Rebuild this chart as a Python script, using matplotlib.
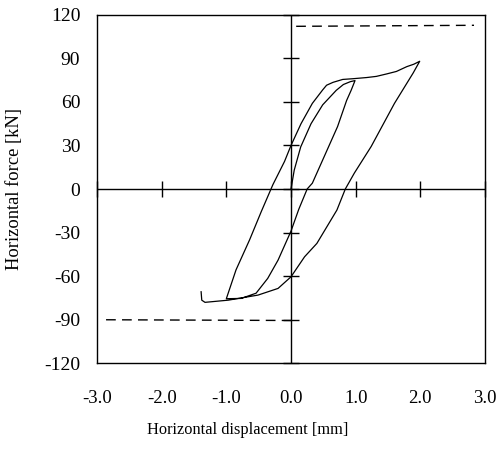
import matplotlib
matplotlib.use("Agg")
import matplotlib.pyplot as plt

plt.rcParams['font.family'] = ['Liberation Serif', 'DejaVu Serif']
plt.rcParams['axes.unicode_minus'] = False

# hysteresis path (mm, kN)
disp = [0.0, 0.05, 0.15, 0.31, 0.49, 0.70, 0.81, 0.92, 0.99,
        0.93, 0.86, 0.72, 0.51, 0.33, 0.25, 0.12, 0.0, -0.2, -0.36, -0.54, -0.77, -1.0,
        -0.85, -0.64, -0.46, -0.28, -0.1, 0.0, 0.155, 0.33, 0.49, 0.55, 0.65, 0.80, 0.96,
        1.17, 1.32, 1.48, 1.63, 1.79, 1.90, 1.99,
        1.89, 1.60, 1.24, 0.98, 0.84, 0.71, 0.40, 0.21, 0.0, -0.2, -0.51, -0.97, -1.33,
        -1.38, -1.39]
force = [0.0, 13, 29, 45, 58, 68, 72, 74, 74.7,
         68, 61, 43, 22, 4, 0, -14, -29, -49, -61.6, -71.8, -75.4, -75.6,
         -55.7, -35, -15.6, 3, 19, 30, 45, 59, 68.3, 71.5, 73.5, 75.5, 76,
         76.8, 77.6, 79.3, 81, 84.3, 86, 88,
         80, 59, 29.3, 11, 0, -14.5, -37.5, -46.7, -60.5, -68.5, -73.1, -76.6, -78.1,
         -76.6, -70.8]

# dashed capacity lines
cap_pos_x = [0.08, 2.83]
cap_pos_y = [112.1, 112.8]
cap_neg_x = [-2.86, 0.0]
cap_neg_y = [-90.1, -90.6]

x_ticks = [-3, -2, -1, 0, 1, 2, 3]
x_labels = ["-3.0", "-2.0", "-1.0", "0.0", "1.0", "2.0", "3.0"]
y_ticks = [-120, -90, -60, -30, 0, 30, 60, 90, 120]

fig = plt.figure(figsize=(5, 4.5), dpi=100)
ax = fig.add_axes([0.194, 0.193, 0.776, 0.774])

ax.plot(disp, force, color='black', lw=0.9)
ax.plot(cap_pos_x, cap_pos_y, color='black', lw=1, dashes=(7, 4.5))
ax.plot(cap_neg_x, cap_neg_y, color='black', lw=1, dashes=(7, 4.5))

# axes through origin with crossing ticks
ax.axhline(0, color='black', lw=1)
ax.axvline(0, color='black', lw=1)
ax.plot(x_ticks, [0] * len(x_ticks), ls='none', marker='|', ms=11, mew=1,
        color='black', clip_on=False)
ax.plot([0] * len(y_ticks), y_ticks, ls='none', marker='_', ms=11, mew=1,
        color='black', clip_on=False)

ax.set_xlim(-3, 3)
ax.set_ylim(-120, 120)
ax.set_xticks(x_ticks, x_labels)
ax.set_yticks(y_ticks)
ax.tick_params(length=0, colors='black')
ax.tick_params(axis='x', pad=19.5, labelsize=13.5)
ax.tick_params(axis='y', pad=12, labelsize=14)
for s in ax.spines.values():
    s.set_linewidth(1)

fig.text(248 / 500, 1 - 430 / 450, "Horizontal displacement [mm]",
         ha='center', va='center', fontsize=11.8)
fig.text(15 / 500, 1 - 189 / 450, "Horizontal force [kN]",
         ha='center', va='center', rotation=90, fontsize=13.3)

fig.savefig("out.png", dpi=100)
